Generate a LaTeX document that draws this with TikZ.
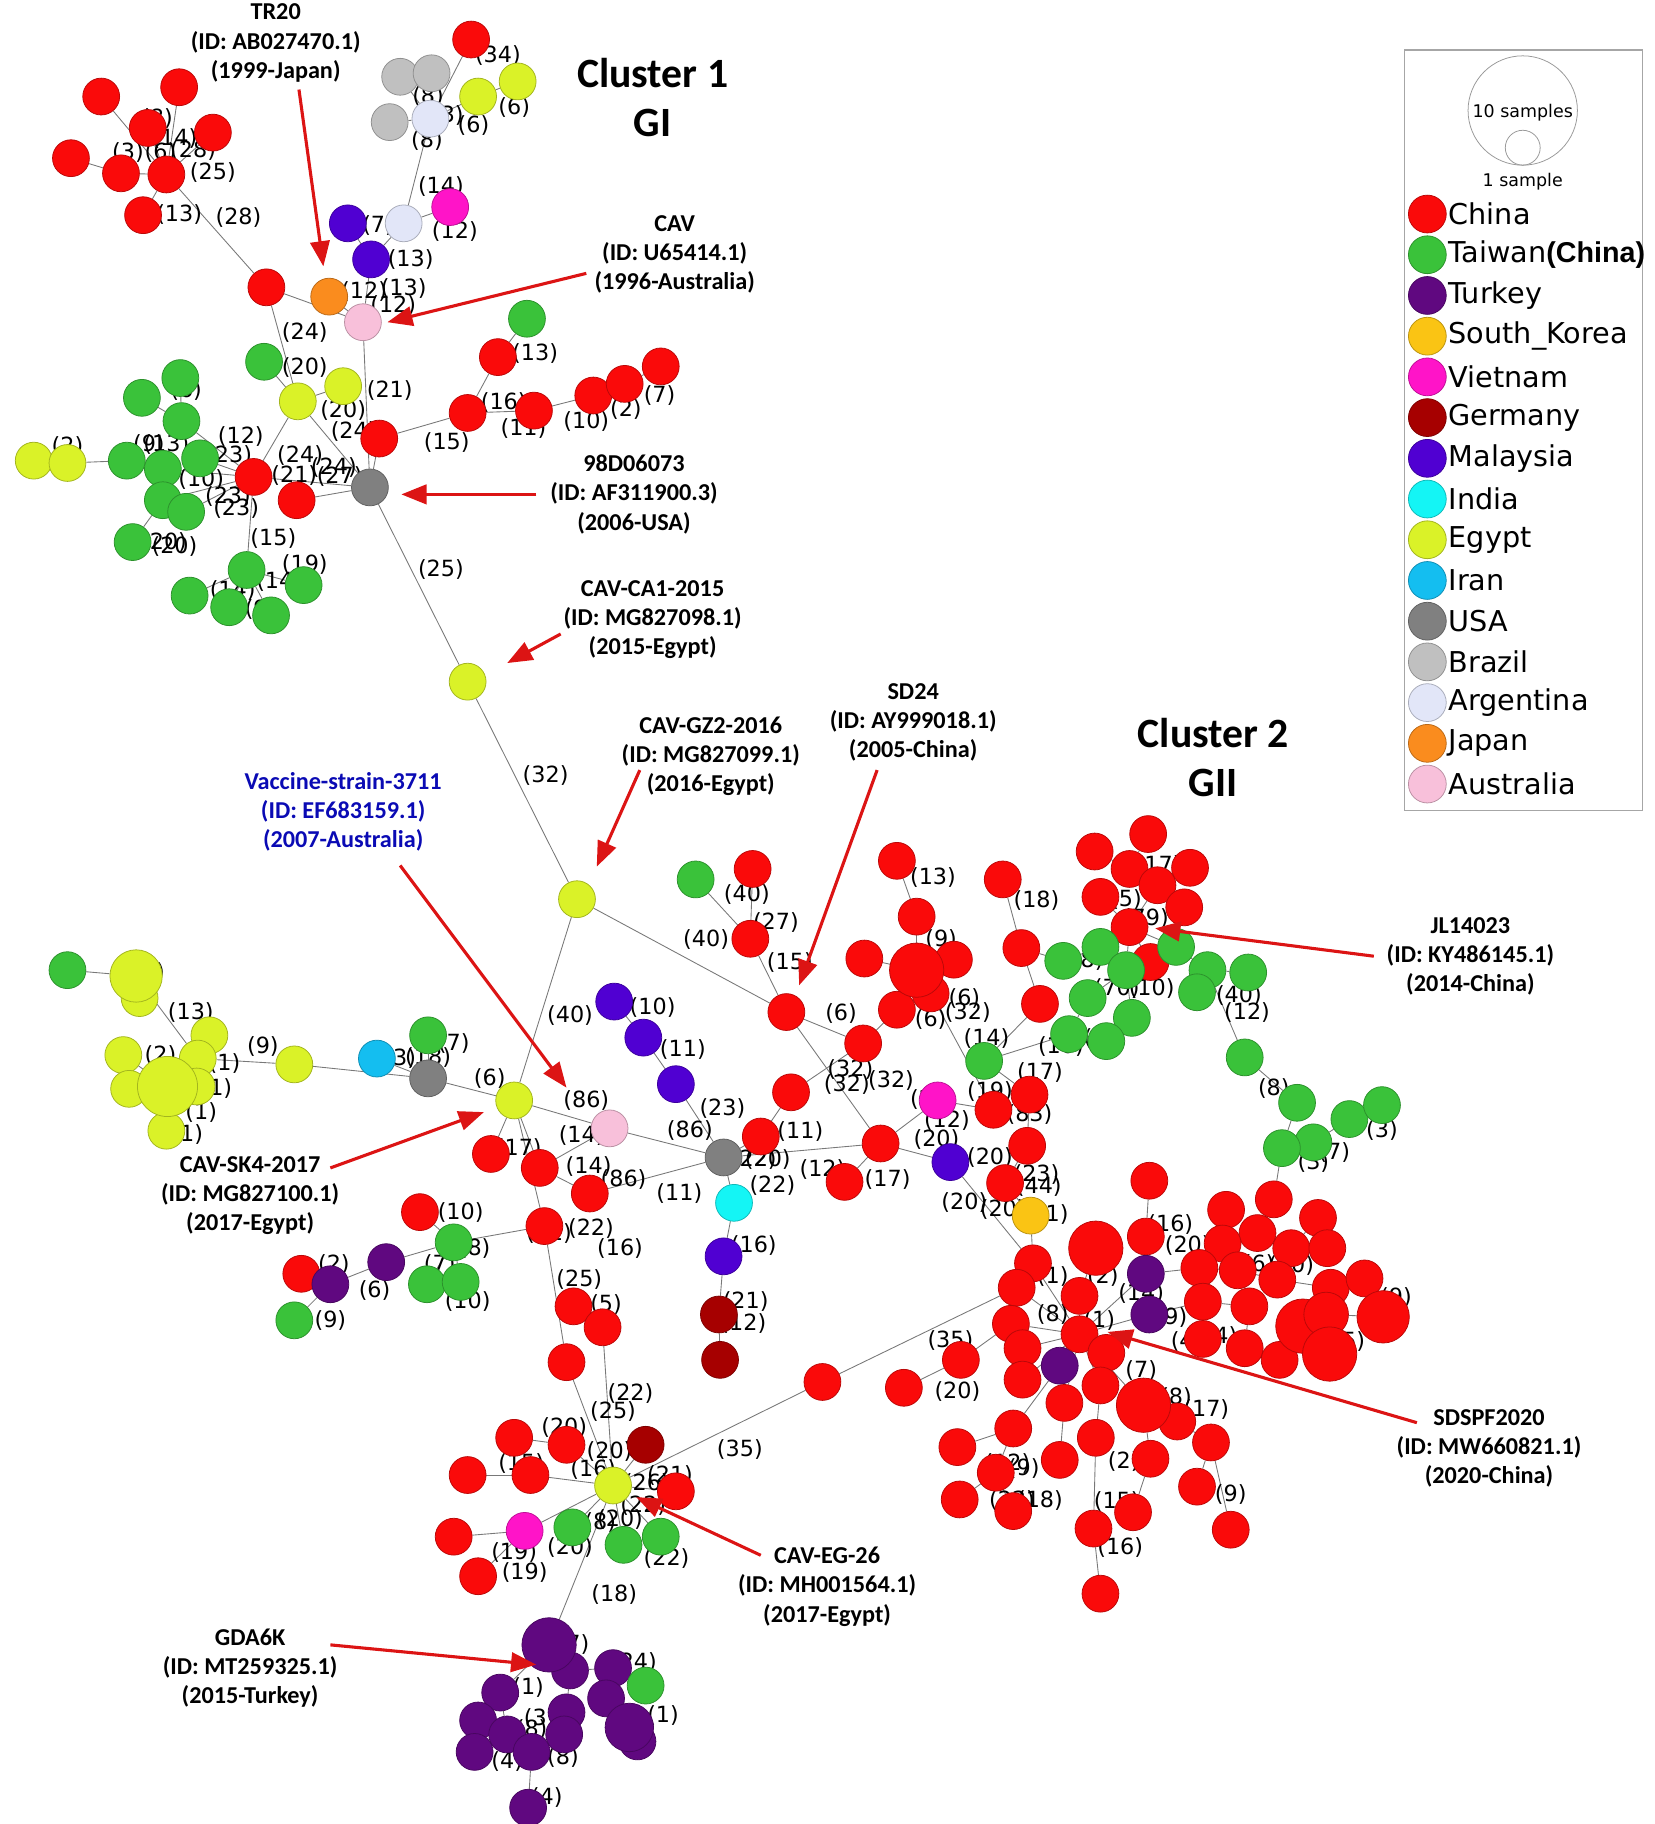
\documentclass[tikz,border=0pt]{standalone}
\usepackage{fontspec}
\setmainfont{DejaVu Sans}
\newfontfamily\annfont{Carlito}
\newfontfamily\arialfont{Liberation Sans}
\usetikzlibrary{arrows.meta}

\definecolor{cChina}{RGB}{250,10,10}
\definecolor{cTaiwan}{RGB}{58,194,58}
\definecolor{cTurkey}{RGB}{96,8,128}
\definecolor{cKorea}{RGB}{250,196,20}
\definecolor{cVietnam}{RGB}{255,20,200}
\definecolor{cGermany}{RGB}{166,0,0}
\definecolor{cMalaysia}{RGB}{80,0,210}
\definecolor{cIndia}{RGB}{20,245,245}
\definecolor{cEgypt}{RGB}{218,242,40}
\definecolor{cIran}{RGB}{20,190,240}
\definecolor{cUSA}{RGB}{128,128,128}
\definecolor{cBrazil}{RGB}{192,192,192}
\definecolor{cArgentina}{RGB}{226,230,248}
\definecolor{cJapan}{RGB}{250,140,30}
\definecolor{cAustralia}{RGB}{248,192,218}
\definecolor{arrowred}{RGB}{220,20,20}
\definecolor{vacblue}{RGB}{10,10,180}
\definecolor{linkgray}{RGB}{120,120,120}

\pgfdeclarelayer{bg}
\pgfsetlayers{bg,main}

\tikzset{
  smp/.style={circle, inner sep=0pt, minimum size=19pt, line width=0.4pt},
  chn/.style={smp, fill=cChina, draw=cChina!75!black},
  twn/.style={smp, fill=cTaiwan, draw=cTaiwan!75!black},
  tur/.style={smp, fill=cTurkey, draw=cTurkey!75!black},
  kor/.style={smp, fill=cKorea, draw=cKorea!75!black},
  vnm/.style={smp, fill=cVietnam, draw=cVietnam!75!black},
  ger/.style={smp, fill=cGermany, draw=cGermany!75!black},
  mys/.style={smp, fill=cMalaysia, draw=cMalaysia!75!black},
  ind/.style={smp, fill=cIndia, draw=cIndia!75!black},
  egy/.style={smp, fill=cEgypt, draw=cEgypt!75!black},
  irn/.style={smp, fill=cIran, draw=cIran!75!black},
  usa/.style={smp, fill=cUSA, draw=cUSA!75!black},
  bra/.style={smp, fill=cBrazil, draw=cBrazil!75!black},
  arg/.style={smp, fill=cArgentina, draw=cArgentina!75!black},
  jpn/.style={smp, fill=cJapan, draw=cJapan!75!black},
  aus/.style={smp, fill=cAustralia, draw=cAustralia!75!black},
  link/.style={draw=linkgray, line width=0.45pt},
  lbl/.style={font=\fontsize{11.5}{12}\selectfont, inner sep=0pt},
  ann/.style={font=\annfont\bfseries\fontsize{12.5}{15}\selectfont, align=center},
  callout/.style={draw=arrowred, line width=1.6pt, -{Triangle[length=13pt,width=10pt]}},
  legtxt/.style={font=\fontsize{14.8}{16}\selectfont, inner sep=0pt, anchor=west},
}

\begin{document}
\begin{tikzpicture}[x=0.6pt, y=-0.6pt]
\useasboundingbox (0,0) rectangle (1422,1568);

% distance labels (behind the samples)
\foreach \x/\y/\t in {135/102/8, 150/119/14, 110/131/3, 138/131/6, 166/129/28, 183/148/25, 154/184/13, 205/187/28,
  428/48/34, 368/83/8, 385/99/3, 442/92/6, 407/108/6, 367/121/8, 379/160/14, 325/194/7, 391/199/12, 353/223/13,
  313/251/12, 347/248/13, 338/263/12,
  262/286/24, 262/316/20, 295/353/20, 335/336/21, 304/371/24, 384/380/15, 433/346/16, 450/368/11, 460/304/13,
  504/362/10, 538/352/2, 567/340/7,
  207/375/12, 197/392/23, 258/392/24, 287/402/24, 253/409/21, 292/410/27, 173/412/10, 196/427/23, 203/437/23,
  141/466/20, 150/470/20, 235/463/15, 262/485/19, 240/500/14, 200/508/14, 58/384/2, 160/336/6, 128/382/9,
  143/382/13, 224/524/9,
  379/490/25, 469/667/32, 490/873/40,
  607/808/40, 642/769/40, 667/793/27, 679/827/15, 723/871/6, 731/919/32, 728/932/32, 766/929/32, 688/973/11,
  707/1005/12, 763/1014/17, 814/963/12, 805/980/20, 829/1034/20, 802/945/20,
  561/866/10, 587/902/11, 621/953/23, 593/972/86, 504/946/86, 500/976/14, 506/1003/14, 536/1014/86,
  584/1026/11, 648/997/22, 660/997/20, 664/1019/22, 648/1071/16, 641/1119/21, 639/1138/12,
  446/987/17, 508/1056/22, 533/1073/16, 472/1060/12,
  396/1042/10, 408/1073/8, 378/1087/7, 402/1119/10, 322/1109/6, 287/1087/2, 284/1135/9,
  498/1100/25, 521/1121/5,
  542/1198/22, 527/1213/25, 485/1227/20, 524/1248/20, 510/1263/16, 448/1258/15, 576/1268/21, 556/1275/26,
  553/1294/22, 533/1306/20, 516/1309/8, 490/1330/20, 573/1340/22, 528/1371/18, 442/1335/19, 451/1352/19,
  636/1246/35,
  493/1414/7, 545/1429/24, 454/1451/1, 464/1477/3, 457/1487/8, 484/1511/8, 436/1514/4, 470/1545/4, 570/1475/1,
  122/836/12, 164/870/13, 138/907/2, 193/914/1, 186/936/1, 173/956/1, 161/975/1, 226/900/9, 344/910/3,
  368/909/18, 390/897/7, 421/927/6,
  802/754/13, 809/808/9, 829/858/6, 800/876/6, 832/870/32, 891/774/18, 848/893/14, 894/922/17, 851/938/19,
  885/958/83, 851/995/20, 891/1010/23, 893/1020/44, 905/1044/1, 862/1040/20,
  996/744/17, 968/773/5, 985/790/79, 935/826/8, 960/850/70, 990/850/10, 1065/856/40, 1072/870/12, 912/900/10,
  945/893/7, 1095/936/8, 1188/972/3, 1129/999/3, 1147/991/7,
  1006/1053/16, 1021/1071/20, 1007/1133/9, 981/1178/7, 1011/1201/8, 1037/1212/17, 1058/1285/9, 960/1291/15,
  963/1330/16, 817/1152/35, 823/1196/20, 866/1258/12, 880/1262/9, 894/1290/18, 870/1290/22, 1050/1149/4,
  966/1256/2, 905/1097/1, 945/1135/1, 905/1130/8, 1082/1087/6, 1110/1088/10, 1020/1153/4, 948/1097/2,
  981/1112/14, 1160/1153/5, 1200/1115/9}
  \node[lbl] (lb-\x-\y) at (\x,\y) {(\t)};

% samples
\foreach \n/\x/\y/\c in {a1/87/83/chn, a2/154/75/chn, a3/127/110/chn, a4/183/114/chn, a5/61/136/chn,
  a6/104/149/chn, a7/143/150/chn, a8/123/185/chn,
  b1/229/247/chn, jp1/283/255/jpn, au1/312/277/aus,
  m1/299/192/mys, m2/319/223/mys, ag1/347/192/arg, vn1/387/178/vnm, ag2/370/102/arg, br1/344/66/bra,
  br2/371/63/bra, br3/335/105/bra, ey1/411/83/egy, ey2/445/70/egy, rt1/405/34/chn,
  e1/256/345/egy, e2/295/332/egy, gw1/227/311/twn, us1/318/419/usa, r2/326/377/chn, r3/218/410/chn, r4/255/430/chn,
  r5/402/355/chn, r6/428/307/chn, gt1/453/274/twn, r7/459/353/chn, r8/510/340/chn, r9/537/330/chn, r10/568/315/chn,
  g01/122/342/twn, g02/155/325/twn, g03/156/362/twn, g04/109/396/twn, g05/140/403/twn, g06/172/394/twn,
  g07/140/430/twn, g08/160/440/twn, g09/114/466/twn, g10/212/490/twn, g11/163/512/twn, g12/197/522/twn,
  g13/233/529/twn, g14/261/503/twn, y01/29/396/egy, y02/58/398/egy,
  ca/402/586/egy, gz/496/773/egy,
  sd/676/870/chn, c1/645/807/chn, c2/647/747/chn, gt2/598/756/twn, c3/742/897/chn, c5/680/939/chn,
  c6/654/977/chn, c4/757/983/chn, c7/726/1016/chn, vm1/806/946/vnm, mm1/817/999/mys,
  mk1/528/861/mys, mk2/553/892/mys, mk3/581/932/mys, us2/622/995/usa, ji/631/1034/ind, jm/622/1080/mys,
  jg1/618/1130/ger, jg2/619/1169/ger,
  vac/524/970/aus, sk/442/946/egy, k1/422/992/chn, k2/464/1004/chn, k3/507/1026/chn, k4/468/1054/chn,
  l01/361/1042/chn, l02/390/1068/twn, l03/332/1085/tur, l04/367/1104/twn, l05/396/1102/twn, l06/259/1095/chn,
  l07/284/1104/tur, l08/253/1135/twn,
  m01/493/1123/chn, m02/518/1141/chn, m03/487/1171/chn,
  eg/527/1277/egy, n01/555/1242/ger, n02/581/1282/chn, n03/492/1313/twn, n04/536/1328/twn, n05/568/1321/twn,
  n06/487/1242/chn, n07/442/1236/chn, n09/456/1268/chn, n10/402/1268/chn, n11/390/1321/chn, n12/451/1316/vnm,
  n13/411/1355/chn, q1/707/1188/chn,
  t02/490/1436/tur, t03/527/1434/tur, t04/521/1460/tur, t05/487/1472/tur, t07/548/1497/tur, t08/430/1455/tur,
  t09/411/1479/tur, t10/436/1491/tur, t11/408/1506/tur, t12/457/1506/tur, t13/454/1554/tur, t14/485/1491/tur,
  tg/555/1449/twn,
  w01/58/834/twn, w03/120/858/egy, w04/180/890/egy, w05/106/907/egy, w06/170/910/egy, w08/111/936/egy,
  w09/169/934/egy, w10/143/972/egy, w11/253/915/egy, w12/324/910/irn, w13/368/927/usa, w14/368/890/twn,
  d1/771/740/chn, d2/788/788/chn, d4/743/824/chn, d5/820/825/chn, d6/800/854/chn, d7/771/868/chn,
  d8/862/756/chn, d9/878/815/chn, d10/894/863/chn, gt3/846/912/twn, c9/885/941/chn, c8/854/954/chn,
  c10/883/985/chn, c11/864/1017/chn, sk1/886/1045/kor,
  e01/987/717/chn, e02/941/732/chn, e03/971/747/chn, e04/1023/746/chn, e05/995/761/chn, e06/946/771/chn,
  e07/1018/780/chn, e08/971/797/chn, e09/989/827/chn,
  gr1/914/826/twn, gr2/946/814/twn, gr3/968/834/twn, gr4/1011/814/twn, gr5/1038/834/twn, gr6/1073/836/twn,
  gr7/1029/853/twn, gr8/935/858/twn, gr9/973/875/twn, gr10/919/889/twn, gr11/951/895/twn, gr12/1070/909/twn,
  gr13/1115/948/twn, gr14/1160/962/twn, gr15/1188/950/twn, gr16/1129/982/twn, gr17/1102/987/twn,
  f01/988/1015/chn, f02/1095/1031/chn, f03/1054/1040/chn, f04/1133/1047/chn, f06/985/1063/chn,
  f07/1081/1060/chn, f08/1051/1069/chn, f09/1110/1073/chn, f10/1141/1073/chn, f11/1031/1090/chn,
  f12/1064/1092/chn, f13/1098/1100/chn, f14/1144/1107/chn, f15/1173/1099/chn, f16/1034/1119/chn,
  f17/1074/1123/chn, f22/1034/1151/chn, f23/1070/1159/chn, f24/1100/1169/chn,
  p1/985/1095/tur, p2/988/1130/tur, p3/911/1174/tur,
  h01/888/1086/chn, h02/874/1107/chn, h03/928/1114/chn, h04/928/1147/chn, h05/869/1138/chn, h06/879/1159/chn,
  h07/826/1169/chn, h08/951/1163/chn, h09/879/1186/chn, h10/946/1191/chn, h11/915/1206/chn, h13/1012/1222/chn,
  h14/871/1228/chn, h15/942/1236/chn, h16/823/1244/chn, h17/911/1255/chn, h18/989/1254/chn, h19/856/1266/chn,
  h20/1041/1240/chn, h21/1029/1278/chn, h22/825/1289/chn, h23/871/1299/chn, h24/974/1300/chn, h25/940/1314/chn,
  h26/1058/1315/chn, h27/946/1370/chn, h28/777/1193/chn}
  \node[\c] (\n) at (\x,\y) {};

% larger samples
\foreach \n/\x/\y/\c/\d in {d3/788/834/chn/28, f05/942/1073/chn/28, f18/1120/1140/chn/28, f19/1140/1130/chn/23,
  f20/1189/1132/chn/27, f21/1143/1164/chn/28, h12/983/1208/chn/28, t01/472/1414/tur/28, t06/541/1485/tur/25,
  w02/117/839/egy/27, w07/144/934/egy/31}
  \node[\c, minimum size=\d pt] (\n) at (\x,\y) {};

% links
\begin{pgfonlayer}{bg}
\foreach \a/\b in {a1/a7, a2/a7, a3/a7, a4/a7, a5/a6, a6/a7, a8/a7, a7/b1,
  b1/au1, jp1/au1, b1/e1, au1/m2, m2/m1, m2/ag1, ag1/vn1, ag1/ag2, ag2/br1, ag2/br2, ag2/br3, ag2/ey1,
  ey1/ey2, rt1/ag2,
  au1/us1, r2/us1, e1/gw1, e1/e2, e1/us1, e1/r3, us1/r3, us1/r4,
  r2/r5, r5/r6, r6/gt1, r5/r7, r7/r8, r8/r9, r9/r10,
  r3/g03, g03/g02, g03/g01, r3/g05, g05/g04, g04/y02, y02/y01, r3/g06, r3/g07, r3/g08, g07/g09, r3/g10,
  g10/g11, g10/g12, g10/g13, g10/g14,
  us1/ca, ca/gz, gz/sd, gz/sk,
  sd/c1, c1/c2, c1/gt2, sd/c3, sd/c4, c3/c5, c5/c6, c6/us2, us2/c4, c4/c7, c4/vm1, c4/mm1, vm1/c8,
  mk1/mk2, mk2/mk3, mk3/us2, us2/ji, ji/jm, jm/jg1, jg1/jg2,
  vac/us2, vac/sk, vac/k2, sk/k1, sk/k2, k2/k3, k3/us2, sk/k4, k4/l02, l02/l01, l02/l03, l02/l04, l02/l05,
  l03/l07, l07/l06, l07/l08,
  w13/sk, w13/w12, w13/w14, w11/w13, w06/w11, w07/w06, w07/w05, w07/w08, w07/w09, w07/w10, w06/w04,
  w02/w06, w02/w01, w02/w03,
  k4/m03, m01/m02, m02/eg, m03/eg, eg/n01, eg/n02, eg/n03, eg/n04, eg/n05, eg/n06, n06/n07, eg/n09, n09/n10,
  eg/n12, n12/n11, n12/n13, eg/q1, q1/h02, eg/t01,
  t01/t02, t02/t03, t03/tg, t03/t04, t04/t06, t06/t07, t02/t05, t05/t14, t01/t08, t08/t09, t09/t11,
  t08/t10, t10/t12, t12/t13,
  c3/d7, d7/d6, d6/d3, d3/d4, d3/d5, d3/d2, d2/d1, d6/c8, d8/d9, d9/d10, d9/gr1, gr1/gr2, gr2/e08,
  e08/e06, e08/e05, e05/e03, e03/e02, e03/e01, e05/e04, e05/e07, e08/e09, e08/gr4, gr4/gr5, gr5/gr6,
  gr5/gr7, gr5/gr12, e08/gr3, gr3/gr9, gr9/gr11, gr3/gr8, gr8/gr10, gr10/gt3, gt3/d10, gt3/c9, c9/c10,
  c10/c11, c11/sk1, sk1/h01, gr12/gr13, gr13/gr17, gr17/gr16, gr16/gr14, gr14/gr15, gr17/f02, mm1/h01,
  h04/h03, h04/h01, h04/h02, h04/h05, h04/h06, h04/h08, h04/h10, h04/p1, h04/p2, h04/h12, h04/p3, h04/h11,
  h04/h09, h05/h07, h07/h28, p3/h14, h14/h16, h14/h19, h19/h22, h19/h23, h11/h17, h10/h15, h15/h25,
  h25/h27, h12/h13, h13/h20, h20/h21, h12/h18, h18/h24, h20/h26, f05/h03,
  p1/f06, f06/f01, p1/f11, f11/f08, f08/f03, f08/f07, f07/f02, f07/f09, f09/f04, f09/f10, f11/f12,
  f12/f13, f13/f14, f14/f15, f14/f19, f19/f18, f18/f21, f19/f20, p2/f16, f16/f17, f17/f23, f16/f22,
  f23/f24, f24/f18}
  \draw[link] (\a) -- (\b);
\end{pgfonlayer}

% cluster titles
\node[font=\annfont\bfseries\fontsize{21.5}{25}\selectfont, align=center] (cl1) at (561,84) {Cluster 1\\GI};
\node[font=\annfont\bfseries\fontsize{21.5}{25}\selectfont, align=center] (cl2) at (1043,651) {Cluster 2\\GII};

% annotated strains
\node[ann] (tr20) at (237,37) {TR20\\(ID: AB027470.1)\\(1999-Japan)};
\node[ann] (cav) at (580,219) {CAV\\(ID: U65414.1)\\(1996-Australia)};
\node[ann] (d98) at (545,425) {98D06073\\(ID: AF311900.3)\\(2006-USA)};
\node[ann] (ca1) at (561,533) {CAV-CA1-2015\\(ID: MG827098.1)\\(2015-Egypt)};
\node[ann, text=vacblue] (vstr) at (295,698) {Vaccine-strain-3711\\(ID: EF683159.1)\\(2007-Australia)};
\node[ann] (gz2) at (611,650) {CAV-GZ2-2016\\(ID: MG827099.1)\\(2016-Egypt)};
\node[ann] (sd24) at (785,621) {SD24\\(ID: AY999018.1)\\(2005-China)};
\node[ann] (jl) at (1264,822) {JL14023\\(ID: KY486145.1)\\(2014-China)};
\node[ann] (sk4) at (215,1028) {CAV-SK4-2017\\(ID: MG827100.1)\\(2017-Egypt)};
\node[ann] (sdspf) at (1280,1245) {SDSPF2020\\(ID: MW660821.1)\\(2020-China)};
\node[ann] (eg26) at (711,1364) {CAV-EG-26\\(ID: MH001564.1)\\(2017-Egypt)};
\node[ann] (gda) at (215,1434) {GDA6K\\(ID: MT259325.1)\\(2015-Turkey)};

\foreach \n/\xa/\ya/\xb/\yb in {tr20/257/77/278/229, cav/504/235/333/277, d98/461/425/345/425,
  ca1/482/545/436/570, vstr/344/744/487/935, gz2/550/662/513/745, sd24/754/662/687/847,
  jl/1181/822/993/798, sk4/284/1004/416/956, sdspf/1218/1223/952/1145, eg26/654/1337/547/1287,
  gda/284/1414/461/1431}
{
  \coordinate (\n-s) at (\xa,\ya);
  \coordinate (\n-t) at (\xb,\yb);
  \draw[callout] (\n-s) -- (\n-t);
}

% legend
\node[draw=black!35, line width=0.6pt, minimum width=123pt, minimum height=392.4pt, inner sep=0pt]
  (legbox) at (1309.5,370) {};
\node[circle, draw=black!40, line width=0.4pt, minimum size=56.4pt, inner sep=0pt] (leg10) at (1309,95) {};
\node[circle, draw=black!40, line width=0.4pt, minimum size=18pt, inner sep=0pt] (leg1) at (1309,127) {};
\node[font=\fontsize{9}{10}\selectfont] (leg10t) at (1309,97) {10 samples};
\node[font=\fontsize{9}{10}\selectfont] (leg1t) at (1309,156) {1 sample};
\foreach \c/\t [count=\i] in {chn/China, twn/{Taiwan{\arialfont\bfseries(China)}}, tur/Turkey,
  kor/South\_Korea, vnm/Vietnam, ger/Germany, mys/Malaysia, ind/India, egy/Egypt, irn/Iran, usa/USA,
  bra/Brazil, arg/Argentina, jpn/Japan, aus/Australia}
{
  \node[\c, minimum size=19.5pt] (key\i) at (1227,{184+35*(\i-1)}) {};
  \node[legtxt] (keyt\i) at (1245,{184+35*(\i-1)}) {\t};
}
\end{tikzpicture}
\end{document}
